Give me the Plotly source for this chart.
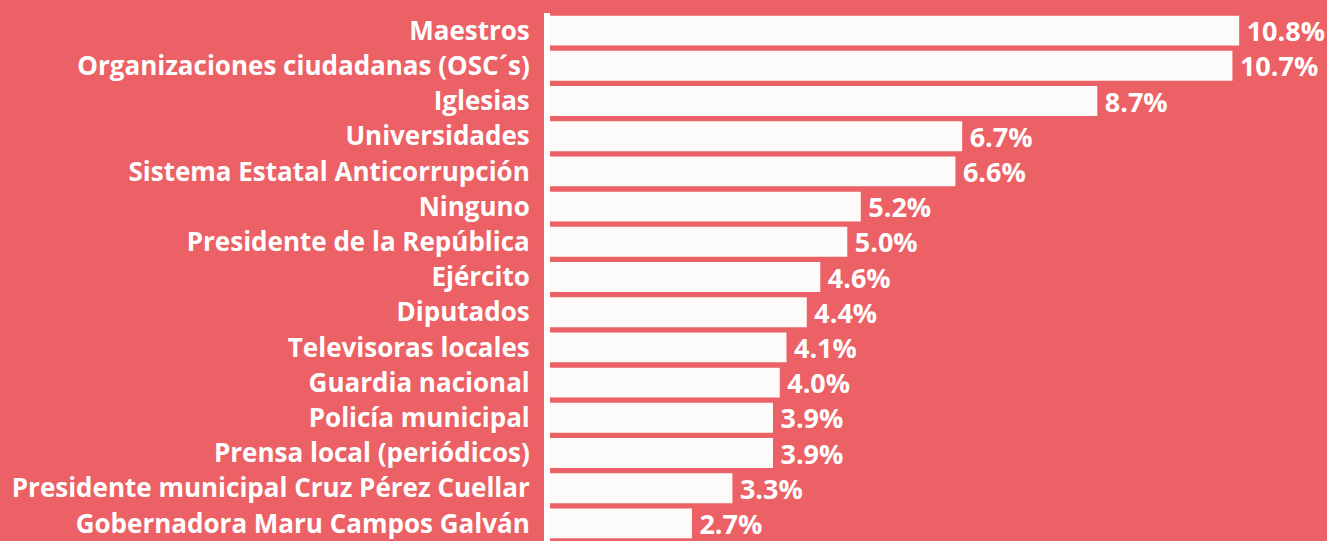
import plotly.graph_objects as go

# categorias y porcentajes (de arriba hacia abajo)
categorias = [
    "Maestros",
    "Organizaciones ciudadanas (OSC´s)",
    "Iglesias",
    "Universidades",
    "Sistema Estatal Anticorrupción",
    "Ninguno",
    "Presidente de la República",
    "Ejército",
    "Diputados",
    "Televisoras locales",
    "Guardia nacional",
    "Policía municipal",
    "Prensa local (periódicos)",
    "Presidente municipal Cruz Pérez Cuellar",
    "Gobernadora Maru Campos Galván",
]
valores = [10.8, 10.7, 8.7, 6.7, 6.6, 5.2, 5.0, 4.6, 4.4, 4.1, 4.0, 3.9, 3.9, 3.3, 2.7]
etiquetas = [f"\u2009{v:.1f}%" for v in valores]

fondo = "#EC6165"
barra = "#FDFBF9"
fuente = "Open Sans"

fig = go.Figure(go.Bar(
    x=valores,
    y=categorias,
    orientation="h",
    marker=dict(color=barra, line_width=0),
    text=etiquetas,
    textposition="outside",
    constraintext="none",
    cliponaxis=False,
    hoverinfo="skip",
    textfont=dict(family=fuente, size=27, color="white", weight="bold"),
))

fig.update_layout(
    width=1327, height=541,
    paper_bgcolor=fondo, plot_bgcolor=fondo,
    margin=dict(l=550, r=0, t=13, b=0),
    bargap=0.15,
    showlegend=False,
)
fig.update_xaxes(range=[0.6, 12.1], visible=False)
fig.update_yaxes(
    autorange="reversed",
    showline=True, linecolor="white", linewidth=6,
    ticks="", showgrid=False,
    tickfont=dict(family=fuente, size=26, color="white", weight="bold"),
    ticklabelstandoff=9,
)

# quitar el margen del body para que el lienzo ocupe toda la ventana
fig.write_html(
    "out.html",
    config={"displayModeBar": False},
    post_script="document.body.style.margin='0';document.body.style.background='%s';" % fondo,
)
